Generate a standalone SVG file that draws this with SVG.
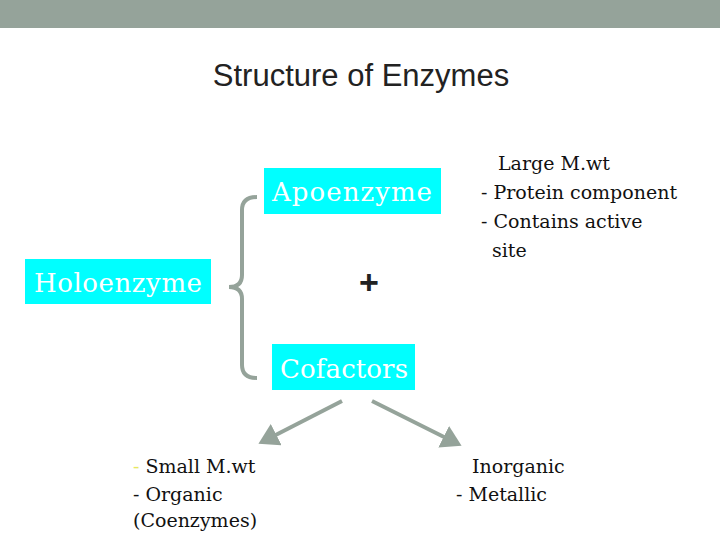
<svg xmlns="http://www.w3.org/2000/svg" width="720" height="540" viewBox="0 0 720 540">
<style>
.box{fill:#00ffff}
.bt{font-family:"DejaVu Serif",serif;font-size:26px;fill:#ffffff}
.t{font-family:"DejaVu Serif",serif;font-size:19px;fill:#111}
.c{stroke:#95a39a;stroke-width:4;fill:none}
</style>
<defs><marker id="a" markerWidth="6" markerHeight="6" refX="4" refY="3" orient="auto" markerUnits="strokeWidth"><path d="M0,0 L5,3 L0,6 z" fill="#95a39a"/></marker></defs>
<rect width="720" height="540" fill="#fff"/>
<rect width="720" height="28" fill="#95a39a"/>
<text x="361" y="86" text-anchor="middle" font-family="Liberation Sans,sans-serif" font-size="31" fill="#222">Structure of Enzymes</text>
<g id="apoenzyme"><rect class="box" x="264" y="168" width="177" height="46"/><text class="bt" x="352" y="201" text-anchor="middle" textLength="160">Apoenzyme</text></g>
<g id="holoenzyme"><rect class="box" x="25" y="259" width="186" height="45"/><text class="bt" x="118" y="292" text-anchor="middle" textLength="168">Holoenzyme</text></g>
<g id="cofactors"><rect class="box" x="272" y="344" width="143" height="46"/><text class="bt" x="344" y="378" text-anchor="middle" textLength="128">Cofactors</text></g>
<g id="plus"><text x="369" y="294" text-anchor="middle" font-family="Liberation Sans,sans-serif" font-size="34" font-weight="bold" fill="#222">+</text></g>
<g id="apo-notes" class="t"><text x="498" y="170">Large M.wt</text><text x="481" y="199">- Protein component</text><text x="481" y="228">- Contains active</text><text x="492" y="257">site</text></g>
<g id="left-notes" class="t"><text x="133" y="473"><tspan fill="#e8e860">-</tspan> Small M.wt</text><text x="133" y="501">- Organic</text><text x="133" y="527">(Coenzymes)</text></g>
<g id="right-notes" class="t"><text x="472" y="473">Inorganic</text><text x="456" y="501">- Metallic</text></g>
<g id="connectors">
<path class="c" d="M257,197 Q242,197 242,210 L242,275 Q242,287 229,287 Q242,287 242,299 L242,365 Q242,378 257,378"/>
<line class="c" x1="342" y1="401" x2="262" y2="442" marker-end="url(#a)"/>
<line class="c" x1="372" y1="401" x2="458" y2="444" marker-end="url(#a)"/>
</g>
</svg>
